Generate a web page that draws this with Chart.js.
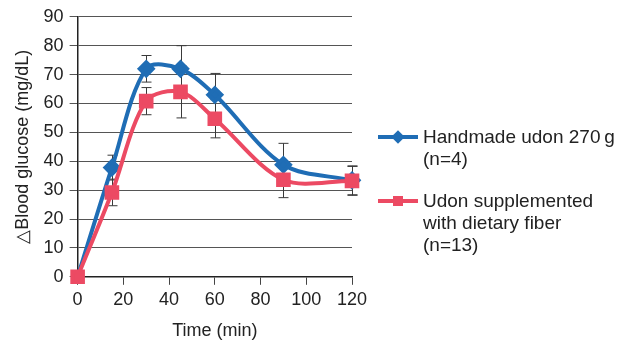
<!DOCTYPE html>
<html>
<head>
<meta charset="utf-8">
<script src="https://cdn.jsdelivr.net/npm/chart.js@4"></script>
<style>
  body { margin: 0; background: #fff; font-family: 'Liberation Sans', Arial, sans-serif; }
  #wrap { position: relative; width: 617px; height: 344px; }
  .legend { position: absolute; left: 378px; color: #222; font-size: 19px; line-height: 22px; white-space: nowrap; }
  .legend .row { position: relative; padding-left: 45px; }
  .legend .key { position: absolute; left: 0; top: 9px; width: 40px; height: 4px; }
  .legend .mark { position: absolute; left: 14px; top: -4px; width: 12px; height: 12px; }
</style>
</head>
<body>
<div id="wrap">
  <canvas id="chart" width="617" height="344"></canvas>
  <div class="legend" style="top:126px">
    <div class="row">
      <div class="key" style="background:#1f6db5"><div class="mark" style="background:#1f6db5;transform:rotate(45deg) scale(0.8)"></div></div>
      Handmade udon 270&#8201;g<br>(n=4)
    </div>
  </div>
  <div class="legend" style="top:190px">
    <div class="row">
      <div class="key" style="background:#ec4a63"><div class="mark" style="background:#ec4a63;left:15px;top:-3px;width:10px;height:10px"></div></div>
      Udon supplemented<br>with dietary fiber<br>(n=13)
    </div>
  </div>
</div>
<script>
const TIMES = [0, 15, 30, 45, 60, 90, 120]
const HANDMADE = [0, 37.8, 72, 72, 63, 38.8, 33.4]
const HANDMADE_ERR = [0, 4.3, 4.6, 8, 7.4, 7.4, 5]
const FIBER = [0, 29.2, 60.8, 64, 54.7, 33.6, 33.2]
const FIBER_ERR = [0, 4.6, 4.7, 9, 6.6, 6.2, 5]
const Y_TICKS = [0, 10, 20, 30, 40, 50, 60, 70, 80, 90]

const BLUE = '#1f6db5'
const RED = '#ec4a63'

function toPoints(values) {
  return TIMES.map((t, i) => ({ x: t, y: values[i] }))
}

// error bars are not built into Chart.js, so draw them from the scales
const errorBars = {
  id: 'errorBars',
  beforeDatasetsDraw(chart) {
    const { ctx, scales } = chart
    const sets = [
      [HANDMADE, HANDMADE_ERR],
      [FIBER, FIBER_ERR],
    ]
    ctx.save()
    ctx.strokeStyle = '#3a3a3a'
    ctx.lineWidth = 1
    sets.forEach(([vals, errs]) => {
      TIMES.forEach((t, i) => {
        if (!errs[i]) return
        const x = Math.round(scales.x.getPixelForValue(t)) + 0.5
        const top = scales.y.getPixelForValue(vals[i] + errs[i])
        const bot = scales.y.getPixelForValue(vals[i] - errs[i])
        ctx.beginPath()
        ctx.moveTo(x, top)
        ctx.lineTo(x, bot)
        ctx.moveTo(x - 5, top)
        ctx.lineTo(x + 5, top)
        ctx.moveTo(x - 5, bot)
        ctx.lineTo(x + 5, bot)
        ctx.stroke()
      })
    })
    ctx.restore()
  },
}

Chart.defaults.font.family = "'Liberation Sans', Arial, sans-serif"
Chart.defaults.color = '#222'

new Chart(document.getElementById('chart'), {
  type: 'line',
  data: {
    datasets: [
      {
        label: 'Handmade udon 270 g (n=4)',
        data: toPoints(HANDMADE),
        borderColor: BLUE,
        backgroundColor: BLUE,
        borderWidth: 4,
        pointStyle: 'rectRot',
        pointRadius: (c) => (c.dataIndex === 0 ? 0 : 6.5),
        tension: 0.32,
        clip: false,
        order: 1,
      },
      {
        label: 'Udon supplemented with dietary fiber (n=13)',
        data: toPoints(FIBER),
        borderColor: RED,
        backgroundColor: RED,
        borderWidth: 4,
        pointStyle: 'rect',
        pointRadius: 7.5,
        tension: 0.32,
        clip: false,
        order: 0,
      },
    ],
  },
  options: {
    responsive: false,
    animation: false,
    layout: { padding: { left: 8, right: 265, top: 16, bottom: 0 } },
    plugins: { legend: { display: false }, tooltip: { enabled: false } },
    scales: {
      x: {
        type: 'linear',
        min: 0,
        max: 120,
        border: { color: '#222', width: 1.5 },
        grid: { drawOnChartArea: false, drawTicks: true, tickLength: 8, color: '#444' },
        ticks: { stepSize: 20, font: { size: 18 }, padding: 4, maxRotation: 0 },
        title: { display: true, text: 'Time (min)', font: { size: 18 }, padding: { top: 6, bottom: 2 } },
      },
      y: {
        min: 0,
        max: 90,
        border: { color: '#222', width: 1.5 },
        grid: { color: '#555', tickLength: 8, lineWidth: 1 },
        afterBuildTicks(scale) {
          scale.ticks = Y_TICKS.map((v) => ({ value: v }))
        },
        ticks: { font: { size: 18 }, padding: 6 },
        title: { display: true, text: '△Blood glucose (mg/dL)', font: { size: 18 }, padding: { bottom: 4 } },
      },
    },
  },
  plugins: [errorBars],
})
</script>
</body>
</html>
